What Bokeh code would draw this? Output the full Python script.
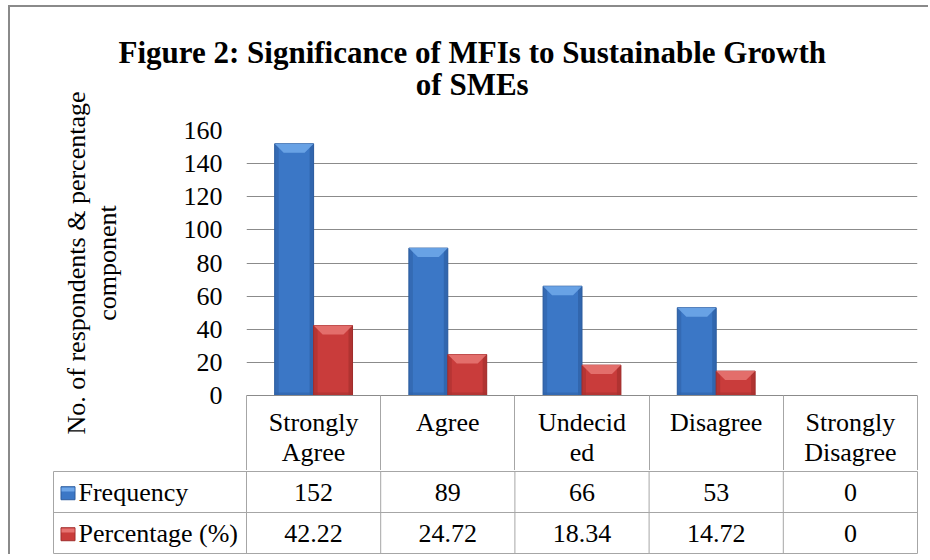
from bokeh.plotting import figure
from bokeh.models import Range1d, FixedTicker
from bokeh.layouts import column
from bokeh.embed import file_html
from bokeh.resources import INLINE
from bokeh.core.properties import value

# ---------------- data ----------------
categories = ["Strongly Agree", "Agree", "Undecided", "Disagree", "Strongly Disagree"]
category_labels = ["Strongly\nAgree", "Agree", "Undecid\ned", "Disagree", "Strongly\nDisagree"]
series_names = ["Frequency", "Percentage (%)"]
frequency = [152, 89, 66, 53, 0]
percentage = [42.22, 24.72, 18.34, 14.72, 0]
y_ticks = [0, 20, 40, 60, 80, 100, 120, 140, 160]

title_text = "Figure 2: Significance of MFIs to Sustainable Growth\nof SMEs"
y_label = "No. of respondents & percentage\ncomponent"

# ---------------- styles ----------------
FONT = "Liberation Serif"
FS = "26px"
GRID = "#8b8b8b"
TABLE = "#a6a6a6"
FRAME_BORDER = "2px solid #8a8a8a"
BLUE = dict(main="#3b77c6", side="#2c5c9e", top="#6ea6e8", bottom="#2f62a8")
RED = dict(main="#c93c3b", side="#a02d2c", top="#e67371", bottom="#a83130")

OX, OY = 10, 7          # content origin inside the outer chart border
W = 922 - OX
F1_H = 470 - OY
F1_L, F1_R, F1_T, F1_B = 246 - OX, 5, 130 - OY, 75
n = len(categories)
px_per_cat = (W - F1_L - F1_R) / n
px_per_unit_y = (F1_H - F1_T - F1_B) / (y_ticks[-1] - y_ticks[0])

p = figure(width=W, height=F1_H, output_backend="svg", toolbar_location=None,
           x_range=Range1d(0, n), y_range=Range1d(y_ticks[0], y_ticks[-1]),
           min_border_left=F1_L, min_border_right=F1_R,
           min_border_top=F1_T, min_border_bottom=F1_B)
p.frame_align = False
p.outline_line_color = None
p.background_fill_color = "white"

# title
p.title.text = title_text
p.title.align = "left"
p.title.vertical_align = "top"
p.title.offset = 118 - 246
p.title.text_align = "center"
p.title.text_font = FONT
p.title.text_font_size = "31px"
p.title.text_font_style = "bold"
p.title.text_color = "black"
p.title.text_line_height = 0.93
p.title.standoff = 52

# y axis
p.yaxis.ticker = FixedTicker(ticks=y_ticks)
p.yaxis.major_tick_out = 0
p.yaxis.major_tick_in = 0
p.yaxis.minor_tick_out = 0
p.yaxis.minor_tick_in = 0
p.yaxis.axis_line_color = None
p.yaxis.major_label_standoff = 24
p.yaxis.major_label_text_font = FONT
p.yaxis.major_label_text_font_size = FS
p.yaxis.major_label_text_color = "black"
p.yaxis.axis_label = y_label
p.yaxis.axis_label_text_font = FONT
p.yaxis.axis_label_text_font_size = FS
p.yaxis.axis_label_text_font_style = "normal"
p.yaxis.axis_label_text_color = "black"
p.yaxis.axis_label_text_line_height = 1.05
p.yaxis.axis_label_standoff = 59

p.ygrid.ticker = FixedTicker(ticks=y_ticks)
p.ygrid.grid_line_color = GRID
p.xgrid.visible = False

# x axis: header row of data table; category boundaries as long minor ticks
centers = [i + 0.5 for i in range(n)]
p.xaxis.ticker = FixedTicker(ticks=centers, minor_ticks=list(range(n + 1)))
p.xaxis.major_label_overrides = {c: lbl for c, lbl in zip(centers, category_labels)}
p.xaxis.major_tick_out = 0
p.xaxis.major_tick_in = 0
p.xaxis.minor_tick_in = 0
p.xaxis.minor_tick_out = F1_B
p.xaxis.minor_tick_line_color = TABLE
p.xaxis.axis_line_color = GRID
p.xaxis.major_label_standoff = 12 - F1_B
p.xaxis.major_label_text_font = FONT
p.xaxis.major_label_text_font_size = FS
p.xaxis.major_label_text_color = "black"
p.xaxis.major_label_text_line_height = 1.05

# bars with a bevel look
bw = 0.29
dodge = 0.145
bevel_h = 9 / px_per_unit_y
bevel_d = 9 / px_per_cat
side_w = 4 / px_per_cat
bot_h = 3 / px_per_unit_y

for vals, off, col in [(frequency, -dodge, BLUE), (percentage, dodge, RED)]:
    xs = [c + off for c, v in zip(centers, vals) if v > 0]
    tops = [v for v in vals if v > 0]
    p.vbar(x=xs, top=tops, bottom=0, width=bw, fill_color=col["main"],
           line_color=col["side"], line_width=1)
    p.vbar(x=[x - bw / 2 + side_w / 2 for x in xs], top=tops, bottom=0, width=side_w,
           fill_color=col["side"], fill_alpha=0.45, line_color=None)
    p.vbar(x=[x + bw / 2 - side_w / 2 for x in xs], top=tops, bottom=0, width=side_w,
           fill_color=col["side"], fill_alpha=0.6, line_color=None)
    p.vbar(x=xs, top=[bot_h] * len(xs), bottom=0, width=bw,
           fill_color=col["bottom"], fill_alpha=0.6, line_color=None)
    pxs, pys = [], []
    for x, t in zip(xs, tops):
        h = min(bevel_h, t)
        pxs.append([x - bw / 2, x + bw / 2, x + bw / 2 - bevel_d, x - bw / 2 + bevel_d])
        pys.append([t, t, t - h, t - h])
    p.patches(xs=pxs, ys=pys, fill_color=col["top"], line_color=None, fill_alpha=0.9)

# ---------------- data table rows ----------------
F2_H = 84
T_L = 53 - OX  # table left edge (canvas px)
x_start = -(F1_L - T_L) / px_per_cat
t = figure(width=W, height=F2_H, output_backend="svg", toolbar_location=None,
           x_range=Range1d(x_start, n), y_range=Range1d(0, 2),
           x_axis_type=None, y_axis_type=None,
           min_border_left=T_L, min_border_right=F1_R, min_border_top=1, min_border_bottom=1)
t.frame_align = False
t.grid.visible = False
t.outline_line_color = TABLE

t.segment(x0=list(range(n)), y0=[0] * n, x1=list(range(n)), y1=[2] * n,
          line_color=TABLE, line_width=1)
t.segment(x0=[x_start], y0=[1], x1=[n], y1=[1], line_color=TABLE, line_width=1)

row_y = [1.5, 0.5]
row_vals = [frequency, percentage]
row_cols = [BLUE, RED]
for ry, vals, col, name in zip(row_y, row_vals, row_cols, series_names):
    t.text(x=centers, y=[ry] * n, text=[f"{v:g}" for v in vals],
           text_font=value(FONT), text_font_size=FS, text_color="black",
           text_align="center", text_baseline="middle")
    t.text(x=[x_start + 25 / px_per_cat], y=[ry], text=[name],
           text_font=value(FONT), text_font_size=FS, text_color="black",
           text_align="left", text_baseline="middle")
    sq_x = x_start + 14.5 / px_per_cat
    t.rect(x=[sq_x], y=[ry - 0.03], width=14, height=13, width_units="screen",
           height_units="screen", fill_color=col["main"], line_color=col["side"])
    t.rect(x=[sq_x], y=[ry + 0.06], width=13, height=4, width_units="screen",
           height_units="screen", fill_color=col["top"], line_color=None)

layout = column(p, t, spacing=0,
                styles={"border-left": FRAME_BORDER, "border-top": FRAME_BORDER,
                        "margin-left": f"{OX - 2}px", "margin-top": f"{OY - 2}px",
                        "padding-right": "6px"})
open("out.html", "w").write(file_html(layout, INLINE))
